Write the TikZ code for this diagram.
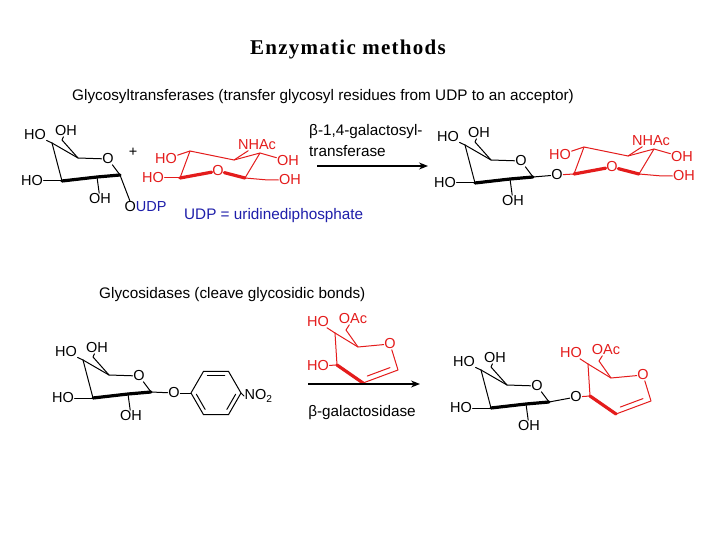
\documentclass[tikz,border=0pt]{standalone}
\usepackage{fontspec}
\setmainfont{Liberation Serif}
\newfontfamily\arialf{Liberation Sans}
\definecolor{chemred}{RGB}{228,28,28}
\definecolor{udpblue}{RGB}{30,30,170}
\tikzset{
  lab/.style={font=\arialf\fontsize{14.5}{14.5}\selectfont, inner sep=0.5pt},
  bd/.style={line width=1pt, line cap=round, line join=round},
  bold/.style={line width=3.2pt, line cap=round},
  txt/.style={font=\arialf\fontsize{15.3}{16}\selectfont, inner sep=0pt, anchor=west},
}
\usetikzlibrary{calc,arrows.meta}
\newcommand\galring[3]{%
\begin{scope}[shift={#1}]
 \coordinate (#2c4) at (0,0); \coordinate (#2c5) at (26,15); \coordinate (#2c1) at (68,32);
 \coordinate (#2c2) at (45,34); \coordinate (#2c3) at (10,38); \coordinate (#2c6) at (10,-3);
 \node[lab] (#2O) at (56,16) {O};
 \node[lab] (#2HO4) at (-17,-8) {HO};
 \node[lab] (#2OH6) at (14,-12) {OH};
 \node[lab] (#2HO3) at (-20,38) {HO};
 \node[lab] (#2OH2) at (48,56) {OH};
 \draw[bd] (#2c4)--(#2c5)--(#2O)--(#2c1);
 \draw[bold] (#2c1)--(#2c2)--(#2c3);
 \draw[bd] (#2c3)--(#2c4);
 \draw[bd] (#2c4)--(#2HO4);
 \draw[bd] (#2c5)--(#2c6)--(#2OH6);
 \draw[bd] (#2c3)--(#2HO3);
 \draw[bd] (#2c2)--(#2OH2);
 #3
\end{scope}}
\newcommand\glcnac[3]{%
\begin{scope}[shift={#1}, chemred]
 \coordinate (#2a) at (0,0); \coordinate (#2b) at (44,9); \coordinate (#2c) at (70,2);
 \coordinate (#2d) at (55,27); \coordinate (#2e) at (-10,27); \coordinate (#2f) at (78,29);
 \node[lab, text=chemred] (#2O) at (28,20) {O};
 \node[lab, text=chemred] (#2HO) at (-24,8) {HO};
 \node[lab, text=chemred] (#2NH) at (67,-6) {NHAc};
 \node[lab, text=chemred] (#2OH) at (98,10) {OH};
 \node[lab, text=chemred] (#2OHb) at (100,29) {OH};
 \draw[bd] (#2e)--(#2a)--(#2b)--(#2c)--(#2d);
 \draw[bold] (#2d)--(#2O)--(#2e);
 \draw[bd] (#2a)--(#2HO);
 \draw[bd] (#2b)--(#2NH);
 \draw[bd] (#2c)--(#2OH);
 \draw[bd] (#2d)--(#2f)--(#2OHb);
 #3
\end{scope}}
\newcommand\glucal[3]{%
\begin{scope}[shift={#1}, chemred]
 \coordinate (#2c4) at (0,0); \coordinate (#2c5) at (23,14); \coordinate (#2c1) at (63,37);
 \coordinate (#2c2) at (28,50); \coordinate (#2c3) at (2,32); \coordinate (#2c6) at (11,-3);
 \node[lab, text=chemred] (#2O) at (55,11) {O};
 \node[lab, text=chemred] (#2HO4) at (-17,-11) {HO};
 \node[lab, text=chemred] (#2OAc) at (18,-14) {OAc};
 \draw[bd] (#2c4)--(#2c5)--(#2O)--(#2c1)--(#2c2);
 \draw[bd] ($(#2c1)!0.2!(#2c2)+(-1,-5)$)--($(#2c1)!0.85!(#2c2)+(-1,-5)$);
 \draw[bold] (#2c2)--(#2c3);
 \draw[bd] (#2c3)--(#2c4);
 \draw[bd] (#2c4)--(#2HO4);
 \draw[bd] (#2c5)--(#2c6)--(#2OAc);
 #3
\end{scope}}
\begin{document}
\begin{tikzpicture}[x=1pt,y=-1pt]
\path[use as bounding box, fill=white] (0,0) rectangle (720,540);
\node[font=\bfseries\fontsize{21}{22}\selectfont, inner sep=0pt] (title) at (348,49) {\addfontfeatures{LetterSpace=6}Enzymatic methods};
\node[txt] (h1) at (72,97) {Glycosyltransferases (transfer glycosyl residues from UDP to an acceptor)};
\node[txt] (h2) at (99,295) {Glycosidases (cleave glycosidic bonds)};

% top reaction
\galring{(52,143)}{ga}{\node[lab,anchor=west] (gaOa) at (72,64) {O\textcolor{udpblue}{UDP}};
  \draw[bd] (gac1)--($(gaOa.north west)+(6,0)$);}
\node[lab] (plus) at (133,152) {+};
\glcnac{(190,151)}{gn}{\node[lab, text=chemred] (gnHOe) at (-37,27) {HO}; \draw[bd] (gne)--(gnHOe);}
\node[txt, text=udpblue] (udp) at (184,216) {UDP = uridinediphosphate};
\node[txt] (enz1) at (309,132) {β-1,4-galactosyl-};
\node[txt] (enz1b) at (309,151) {transferase};
\coordinate (a1s) at (317,166); \coordinate (a1e) at (428,166);
\draw[line width=1.2pt, -{Stealth[length=9pt,width=7pt]}] (a1s)--(a1e);
\galring{(465,145)}{gb}{\node[lab] (gbOl) at (92,30) {O}; \draw[bd] (gbc1)--(gbOl);}
\glcnac{(584,147)}{gp}{}
\draw[bd, chemred] (gbOl)--(gpe);

% bottom reaction
\galring{(83,360)}{gc}{\node[lab] (gcOl) at (91,33) {O}; \draw[bd] (gcc1)--(gcOl);}
\begin{scope}[shift={(216,393)}]
 \foreach \i in {0,...,5} \coordinate (bz\i) at (\i*60+180:25);
\end{scope}
\draw[bd] (bz0)--(bz1)--(bz2)--(bz3)--(bz4)--(bz5)--cycle;
\draw[bd] ($(bz1)!0.15!(bz2)+(0,4)$)--($(bz1)!0.85!(bz2)+(0,4)$);
\draw[bd] ($(bz3)!0.15!(bz4)+(-3.5,-2)$)--($(bz3)!0.85!(bz4)+(-3.5,-2)$);
\draw[bd] ($(bz5)!0.15!(bz0)+(3.5,-2)$)--($(bz5)!0.85!(bz0)+(3.5,-2)$);
\node[lab, anchor=west] (no2) at (244,396) {NO\textsubscript{2}};
\draw[bd] (gcOl)--(bz0);
\draw[bd] (bz3)--(no2.west);
\glucal{(335,333)}{gl}{\node[lab, text=chemred] (glHO3) at (-17,33) {HO}; \draw[bd] (glc3)--(glHO3);}
\coordinate (a2s) at (308,384); \coordinate (a2e) at (420,384);
\draw[line width=1.2pt, -{Stealth[length=9pt,width=7pt]}] (a2s)--(a2e);
\node[txt, anchor=center] (enz2) at (362,413) {β-galactosidase};
\galring{(481,370)}{gd}{\node[lab] (gdOl) at (95,27) {O}; \draw[bd] (gdc1)--(gdOl);}
\glucal{(588,364)}{gm}{}
\draw[bd, chemred] (gdOl)--(gmc3);
\end{tikzpicture}
\end{document}
